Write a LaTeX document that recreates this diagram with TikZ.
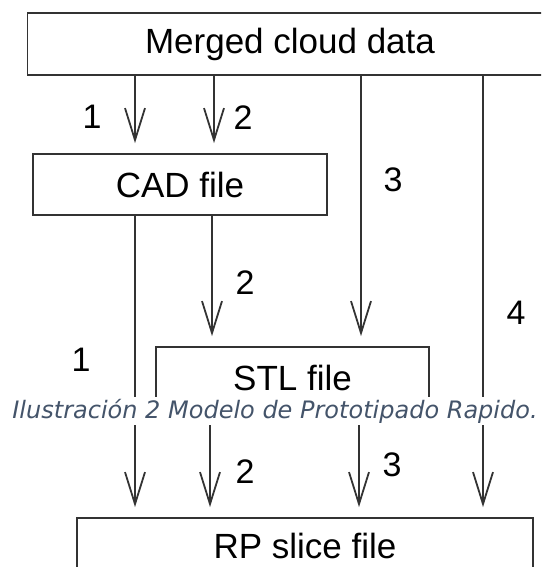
\documentclass[tikz,border=0pt]{standalone}
\usepackage{fontspec}
\setmainfont{Liberation Sans}
\newfontfamily\capfont{DejaVu Sans}
\usetikzlibrary{arrows.meta}
\definecolor{capgray}{HTML}{44546A}

\begin{document}
\begin{tikzpicture}[x=1pt, y=-1pt]
        \tikzstyle{stage} = [draw=black!80, line width=1.8pt, inner sep=0pt, font=\fontsize{35}{42}\selectfont]
        \tikzstyle{flow}  = [draw=black!80, line width=1.8pt, -{Straight Barb[length=32pt, width=20pt]}, shorten >=10pt]
        \tikzstyle{num}   = [inner sep=0pt, font=\fontsize{34}{40}\selectfont]
        \clip (0,0) rectangle (541,567);

        % boxes
        \node [stage, minimum width=525pt, minimum height=62pt](merged) at (290, 44) {Merged cloud data};
        \node [stage, minimum width=294pt, minimum height=61pt](cad) at (180, 184.5) {CAD file};
        \node [stage, minimum width=273pt, minimum height=62pt](stl) at (292.5, 378) {STL file};
        \node [stage, minimum width=456pt, minimum height=56pt](rp) at (305, 546) {RP slice file};

        % columns of the connectors
        \coordinate (p1) at (135, 0);
        \coordinate (p2) at (214, 0);
        \coordinate (p3) at (361, 0);
        \coordinate (p4) at (483, 0);
        \coordinate (p5) at (212, 0);
        \coordinate (p6) at (210, 0);
        \coordinate (p7) at (359, 0);

        \draw [flow] (merged.south -| p1) -- (cad.north -| p1);
        \draw [flow] (merged.south -| p2) -- (cad.north -| p2);
        \draw [flow] (merged.south -| p3) -- (stl.north -| p3);
        \draw [flow] (merged.south -| p4) -- (rp.north -| p4);
        \draw [flow] (cad.south -| p1) -- (rp.north -| p1);
        \draw [flow] (cad.south -| p5) -- (stl.north -| p5);
        \draw [flow] (stl.south -| p6) -- (rp.north -| p6);
        \draw [flow] (stl.south -| p7) -- (rp.north -| p7);

        % route numbers
        \node [num](n1a) at (92, 117) {1};
        \node [num](n2a) at (243, 118) {2};
        \node [num](n3a) at (393, 180) {3};
        \node [num](n2b) at (245, 283) {2};
        \node [num](n4a) at (516, 313) {4};
        \node [num](n1b) at (81, 360) {1};
        \node [num](n2c) at (245, 472) {2};
        \node [num](n3b) at (392, 465) {3};

        \node [fill=white, text=capgray, inner xsep=0pt, inner ysep=0pt, minimum height=28pt,
               font=\capfont\itshape\fontsize{24}{28}\selectfont](caption) at (275, 411)
               {Ilustración 2 Modelo de Prototipado Rapido.};
\end{tikzpicture}
\end{document}
